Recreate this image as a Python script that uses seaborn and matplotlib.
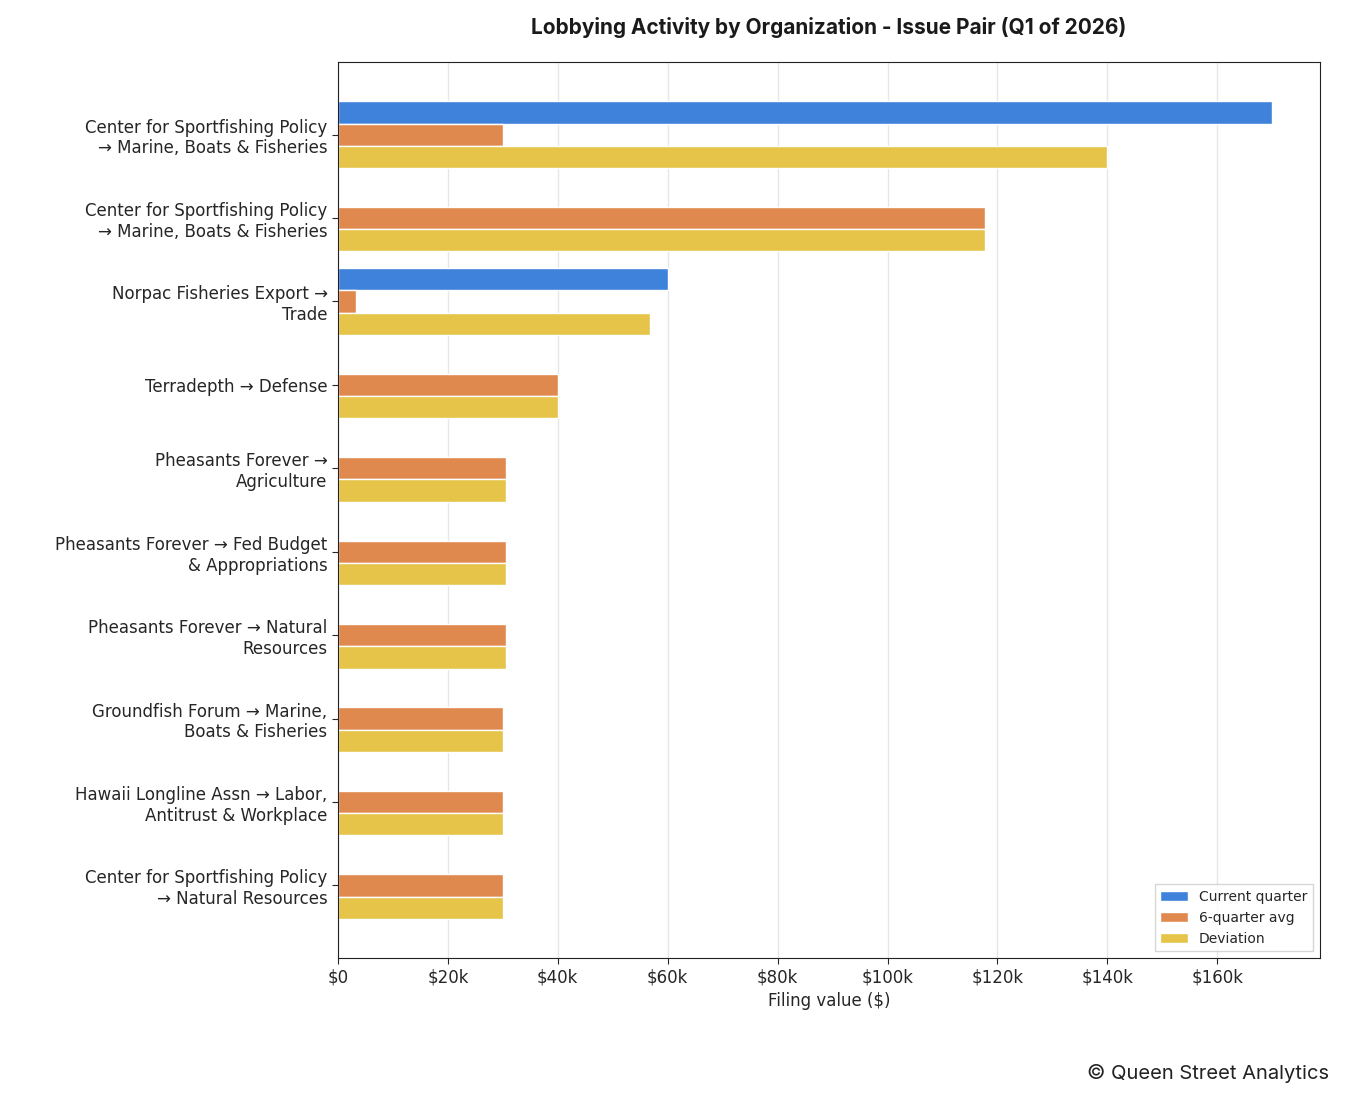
import numpy as np
import pandas as pd
import matplotlib
matplotlib.use("Agg")
import matplotlib.pyplot as plt
import seaborn as sns

# chart data
labels = [
    "Center for Sportfishing Policy\n→ Marine, Boats & Fisheries",
    "Center for Sportfishing Policy\n→ Marine, Boats & Fisheries",
    "Norpac Fisheries Export →\nTrade",
    "Terradepth → Defense",
    "Pheasants Forever →\nAgriculture",
    "Pheasants Forever → Fed Budget\n& Appropriations",
    "Pheasants Forever → Natural\nResources",
    "Groundfish Forum → Marine,\nBoats & Fisheries",
    "Hawaii Longline Assn → Labor,\nAntitrust & Workplace",
    "Center for Sportfishing Policy\n→ Natural Resources",
]
current = [170000, 0, 60000, 0, 0, 0, 0, 0, 0, 0]
avg6 = [30000, 117700, 3300, 40000, 30600, 30600, 30600, 30000, 30000, 30000]
deviation = [140000, 117700, 56700, 40000, 30600, 30600, 30600, 30000, 30000, 30000]
series = ["Current quarter", "6-quarter avg", "Deviation"]
colors = ["#3f82db", "#e0894e", "#e6c44a"]

keys = [str(i) for i in range(len(labels))]
df = pd.DataFrame({
    "key": keys * 3,
    "value": current + avg6 + deviation,
    "series": np.repeat(series, len(labels)),
})

sns.set_style("white")
plt.rcParams["font.family"] = ["DejaVu Sans"]

fig = plt.figure(figsize=(13.45, 11.04), dpi=100)
ax = fig.add_axes([0.2513, 0.1322, 0.7301, 0.8116])
sns.barplot(data=df, x="value", y="key", hue="series", order=keys,
            hue_order=series, palette=colors, orient="h", ax=ax,
            saturation=1, errorbar=None, width=0.8)

ax.set_yticks(range(len(labels)))
ax.set_yticklabels(labels, fontsize=12)
ax.set_ylim(len(labels) - 1 + 0.87, -0.87)
ax.set_xlim(0, 178700)
ax.set_xticks(np.arange(0, 170000, 20000))
ax.set_xticklabels(["$0"] + [f"${v // 1000}k" for v in range(20000, 170000, 20000)], fontsize=12)
ax.tick_params(axis="both", length=4, left=True, bottom=True)
ax.set_xlabel("Filing value ($)", fontsize=12)
ax.set_ylabel("")
ax.grid(axis="x", color="#e6e6e6", linewidth=1)
ax.set_axisbelow(True)
for s in ax.spines.values():
    s.set_color("#222222")

leg = ax.legend(loc="lower right", fontsize=10, frameon=True, fancybox=False)
leg.set_title(None)

fig.text(0.616, 0.975, "Lobbying Activity by Organization - Issue Pair (Q1 of 2026)",
         ha="center", va="center", fontsize=15, fontweight="bold",
         family=["Inter", "DejaVu Sans"], color="#1a1a1a")
fig.text(0.988, 0.028, "© Queen Street Analytics", ha="right", va="center",
         fontsize=14.5, family=["Inter", "DejaVu Sans"], color="#222222")

fig.savefig("out.png", dpi=100)
